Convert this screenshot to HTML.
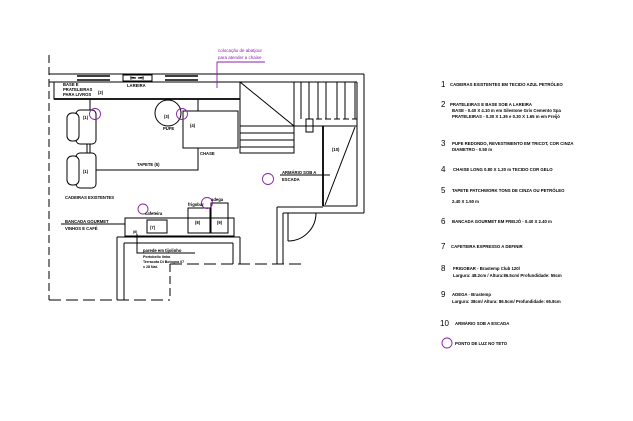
<!DOCTYPE html>
<html><head><meta charset="utf-8"><style>
html,body{margin:0;padding:0;background:#fff;}
svg{display:block;font-family:"Liberation Sans",sans-serif;}
.t{font-size:4.3px;fill:#000;font-weight:bold;}
.n{font-size:8px;fill:#000;}
.l{font-size:4.2px;fill:#000;font-weight:bold;}
.p{font-size:4.5px;fill:#8a1fa8;}
</style></head><body>
<svg width="633" height="421" viewBox="0 0 633 421" xmlns="http://www.w3.org/2000/svg">
<g stroke="#000" fill="none" stroke-width="1">
<line x1="49" y1="55" x2="49" y2="300" stroke-dasharray="8,4"/>
<line x1="49" y1="300" x2="170" y2="300" stroke-dasharray="12,5"/>
<line x1="170" y1="264" x2="170" y2="300" stroke-dasharray="8,4"/>
<line x1="170" y1="264" x2="303" y2="264" stroke-dasharray="12,5"/>
<line x1="49" y1="74" x2="364" y2="74"/>
<line x1="49" y1="82" x2="240" y2="82"/>
<line x1="77" y1="76" x2="110" y2="76" stroke-width="1.5"/>
<line x1="77" y1="80" x2="110" y2="80" stroke-width="1.5"/>
<line x1="165" y1="76" x2="198" y2="76" stroke-width="1.5"/>
<line x1="165" y1="80" x2="198" y2="80" stroke-width="1.5"/>
<rect x="123" y="75" width="29" height="6"/>
<path d="M130 77 L136 78 L130 79 M144 77 L138 78 L144 79"/>
<rect x="54" y="82" width="186" height="17"/>
<line x1="54" y1="99" x2="240" y2="99" stroke-width="1.8"/>
<line x1="364" y1="74" x2="364" y2="213"/>
<line x1="357" y1="82" x2="357" y2="206"/>
<line x1="240" y1="82" x2="357" y2="82"/>
<rect x="240" y="82" width="54" height="71"/>
<line x1="240" y1="82" x2="294" y2="126"/>
<line x1="240" y1="126" x2="294" y2="126"/>
<line x1="240" y1="133" x2="294" y2="133"/>
<line x1="240" y1="140" x2="294" y2="140"/>
<line x1="240" y1="147" x2="294" y2="147"/>
<line x1="301" y1="82" x2="301" y2="119"/>
<line x1="309" y1="82" x2="309" y2="119"/>
<line x1="318" y1="82" x2="318" y2="119"/>
<line x1="326" y1="82" x2="326" y2="119"/>
<line x1="337" y1="82" x2="337" y2="119"/>
<line x1="345" y1="82" x2="345" y2="119"/>
<line x1="355" y1="82" x2="355" y2="119"/>
<line x1="307" y1="119" x2="357" y2="119" stroke-dasharray="6,3"/>
<rect x="306" y="119" width="7" height="13"/>
<line x1="294" y1="126" x2="357" y2="126"/>
<line x1="323" y1="126" x2="323" y2="206" stroke-width="1.8"/>
<line x1="355" y1="127" x2="325" y2="205"/>
<line x1="323" y1="206" x2="357" y2="206"/>
<line x1="277" y1="207" x2="323" y2="207"/>
<line x1="283" y1="213" x2="364" y2="213"/>
<line x1="277" y1="207" x2="277" y2="264"/>
<line x1="283" y1="213" x2="283" y2="264"/>
<line x1="288" y1="213" x2="288" y2="241"/>
<path d="M288 241 A28 28 0 0 0 316 213"/>
<rect x="90" y="99" width="108" height="71"/>
<rect x="183" y="111" width="55" height="37" fill="#fff"/>
<circle cx="168" cy="113" r="13" fill="#fff"/>
<g fill="#fff">
<rect x="76" y="110" width="20" height="34" rx="4"/>
<rect x="67" y="113" width="12" height="28" rx="5"/>
<rect x="76" y="153" width="20" height="35" rx="4"/>
<rect x="67" y="156" width="12" height="29" rx="5"/>
</g>
<line x1="87" y1="144" x2="87" y2="153"/><line x1="90" y1="144" x2="90" y2="153"/>
<rect x="125" y="218" width="109" height="18"/>
<rect x="147" y="220" width="20" height="13"/>
<rect x="188" y="208" width="22" height="25"/>
<rect x="211" y="203" width="17" height="30"/>
<line x1="117" y1="237" x2="240" y2="237"/>
<line x1="124" y1="243" x2="233" y2="243"/>
<line x1="117" y1="237" x2="117" y2="300"/>
<line x1="124" y1="243" x2="124" y2="300"/>
<line x1="240" y1="237" x2="240" y2="264"/>
<line x1="233" y1="243" x2="233" y2="264"/>
<line x1="61" y1="224" x2="125" y2="224"/>
<polyline points="137,234 137,253 195,253"/>
<line x1="280" y1="175" x2="330" y2="175"/>
</g>
<g stroke="#8a1fa8" fill="none" stroke-width="0.9">
<circle cx="95" cy="114" r="5.5"/>
<circle cx="182" cy="114" r="5.5"/>
<circle cx="268" cy="179" r="5.5"/>
<circle cx="143" cy="209" r="5"/>
<circle cx="207" cy="203" r="5.5"/>
<polyline points="217,88 217,62 265,62"/>
<circle cx="447" cy="343" r="5"/>
</g>
<g>
<text class="p" x="218" y="52">colocação de abatjour</text>
<text class="p" x="218" y="59">para atender a chaise</text>
<text class="l" x="63" y="86">BASE E</text>
<text class="l" x="63" y="91">PRATELEIRAS</text>
<text class="l" x="63" y="96">PARA LIVROS</text>
<text class="l" x="98" y="94">(2)</text>
<text class="l" x="127" y="87">LAREIRA</text>
<text class="l" x="164" y="118">(3)</text>
<text class="l" x="163" y="130">PUFE</text>
<text class="l" x="190" y="127">(4)</text>
<text class="l" x="200" y="155">CHASE</text>
<text class="l" x="83" y="119">(1)</text>
<text class="l" x="83" y="173">(1)</text>
<text class="l" x="137" y="166">TAPETE (5)</text>
<text class="l" x="282" y="174">ARMÁRIO SOB A</text>
<text class="l" x="282" y="181">ESCADA</text>
<text class="l" x="332" y="151">(10)</text>
<text class="l" x="65" y="199">CADEIRAS EXISTENTES</text>
<text class="l" x="65" y="223">BANCADA GOURMET</text>
<text class="l" x="65" y="230">VINHOS E CAFÉ</text>
<text class="l" x="145" y="215">cafeteira</text>
<text class="l" x="150" y="229">(7)</text>
<text class="l" x="188" y="206">frigobar</text>
<text class="l" x="211" y="201">adega</text>
<text class="l" x="195" y="224">(8)</text>
<text class="l" x="217" y="224">(9)</text>
<text class="l" x="133" y="233" style="font-size:3.5px">(6)</text>
<text class="l" x="143" y="252">parede em tijolinho</text>
<text class="l" x="143" y="258" style="font-size:3.6px">Portobello linha</text>
<text class="l" x="143" y="263" style="font-size:3.6px">Terracota Di Bologna 07</text>
<text class="l" x="143" y="268" style="font-size:3.6px">x 28 Nat.</text>
</g>
<g>
<text class="n" x="441" y="87">1</text><text class="t" x="450" y="86">CADEIRAS EXISTENTES EM TECIDO AZUL PETRÓLEO</text>
<text class="n" x="441" y="107">2</text><text class="t" x="450" y="106">PRATELEIRAS E BASE SOB A LAREIRA</text>
<text class="t" x="452" y="112">BASE - 0.40 X 4.10 m em Silestone Gris Cemento Spa</text>
<text class="t" x="452" y="118">PRATELEIRAS - 0.30 X 1.35  e 0.30 X 1.65 m em Freijó</text>
<text class="n" x="441" y="146">3</text><text class="t" x="452" y="145">PUFE REDONDO, REVESTIMENTO EM TRICOT, COR CINZA</text>
<text class="t" x="452" y="151">DIAMETRO - 0.50 m</text>
<text class="n" x="441" y="172">4</text><text class="t" x="453" y="171">CHAISE LONG  0.80 X 1.20 m TECIDO COR GELO</text>
<text class="n" x="441" y="193">5</text><text class="t" x="452" y="192">TAPETE PATCHWORK TONS DE CINZA OU PETRÓLEO</text>
<text class="t" x="452" y="203">2.40 X 1.50  m</text>
<text class="n" x="441" y="224">6</text><text class="t" x="452" y="223">BANCADA GOURMET  EM FREIJÓ  - 0.40 X 2.40 m</text>
<text class="n" x="441" y="249">7</text><text class="t" x="451" y="248">CAFETEIRA EXPRESSO A DEFINIR</text>
<text class="n" x="441" y="271">8</text><text class="t" x="453" y="270">FRIGOBAR - Brastemp Club 120l</text>
<text class="t" x="453" y="277">Largura: 48.2cm / Altura:86.5cm/ Profundidade: 55cm</text>
<text class="n" x="441" y="297">9</text><text class="t" x="452" y="296">ADEGA  - Brastemp</text>
<text class="t" x="452" y="303">Largura: 38cm/ Altura: 86.5cm/ Profundidade: 65.8cm</text>
<text class="n" x="440" y="326">10</text><text class="t" x="455" y="325">ARMÁRIO SOB  A ESCADA</text>
<text class="t" x="455" y="345">PONTO DE LUZ NO TETO</text>
</g>
</svg>
</body></html>
